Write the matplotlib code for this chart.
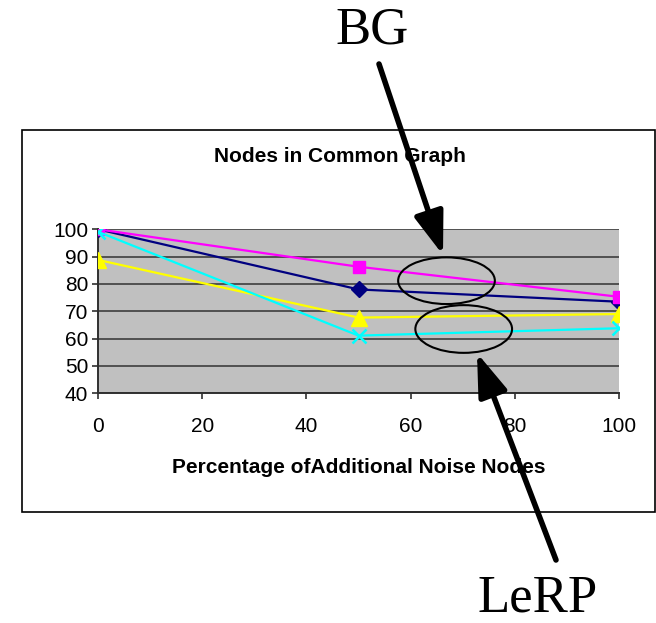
import matplotlib.pyplot as plt
from matplotlib.patches import Ellipse, Rectangle

# noise percentage on x
noise_pct = [0, 50, 100]

# four series
navy_vals = [100, 78, 73.5]
magenta_vals = [100, 86.3, 75.3]
yellow_vals = [88.8, 67.7, 69]
cyan_vals = [99.1, 61.1, 63.8]

y_ticks = [40, 50, 60, 70, 80, 90, 100]
x_ticks = [0, 20, 40, 60, 80, 100]

W, H = 656, 623
fig = plt.figure(figsize=(W / 100, H / 100), dpi=100)

# outer chart box
fig.patches.append(Rectangle((22 / W, (H - 512) / H), 633 / W, 382 / H,
                             transform=fig.transFigure, fill=False,
                             edgecolor='black', lw=1.2))

ax = fig.add_axes([98 / W, (H - 393.3) / H, 521 / W, 164 / H])
ax.set_facecolor('#C0C0C0')

ax.plot(noise_pct, navy_vals, color='#000080', lw=1.6, marker='D', ms=8.5, zorder=3)
ax.plot(noise_pct, magenta_vals, color='#FF00FF', lw=1.6, marker='s', ms=9, zorder=3)
ax.plot(noise_pct, yellow_vals, color='#FFFF00', lw=1.6, marker='^', ms=11, zorder=3)
ax.plot(noise_pct, cyan_vals, color='#00FFFF', lw=1.6, marker='x', ms=10, mew=1.8, zorder=3)

ax.set_xlim(0, 100)
ax.set_ylim(40, 100)
ax.set_xticks(x_ticks)
ax.set_yticks(y_ticks)
ax.yaxis.grid(True, color='#505050', lw=1.4)
ax.set_axisbelow(True)
for s in ['top', 'right']:
    ax.spines[s].set_visible(False)
for s in ['left', 'bottom']:
    ax.spines[s].set_color('#303030')
    ax.spines[s].set_linewidth(1.4)
ax.tick_params(labelsize=15, length=4, width=1.2, pad=3, color='#303030')
for lbl in ax.get_xticklabels() + ax.get_yticklabels():
    lbl.set_fontfamily('Liberation Sans')
ax.tick_params(axis='x', pad=13)
ax.set_xlabel('Percentage ofAdditional Noise Nodes', fontsize=15, fontweight='bold',
              family='Liberation Sans', labelpad=16)

fig.text(340 / W, 1 - 157 / H, 'Nodes in Common Graph', ha='center', va='center',
         fontsize=15, fontweight='bold', family='Liberation Sans')

# hand-drawn annotations
fig.text(372 / W, 1 - 30 / H, 'BG', ha='center', va='center', fontsize=38,
         family='Liberation Serif')
fig.text(538 / W, 1 - 598 / H, 'LeRP', ha='center', va='center', fontsize=38,
         family='Liberation Serif')

arrow = dict(arrowstyle='-|>,head_length=2.6,head_width=0.9', lw=4, color='black',
             shrinkA=0, shrinkB=0, mutation_scale=10)
fig.patches.append(Ellipse((446.5 / 100, (H - 280.7) / 100), 0.967, 0.467,
                           transform=fig.dpi_scale_trans, fill=False,
                           edgecolor='black', lw=1.5, zorder=5))
fig.patches.append(Ellipse((463.7 / 100, (H - 329) / 100), 0.967, 0.477,
                           transform=fig.dpi_scale_trans, fill=False,
                           edgecolor='black', lw=1.5, zorder=5))
ax.annotate('', xy=(443, H - 255), xycoords='figure pixels',
            xytext=(379, H - 64), textcoords='figure pixels', arrowprops=arrow,
            annotation_clip=False)
ax.annotate('', xy=(477, H - 353), xycoords='figure pixels',
            xytext=(556, H - 560), textcoords='figure pixels', arrowprops=arrow,
            annotation_clip=False)

fig.savefig('out.png', dpi=100)
